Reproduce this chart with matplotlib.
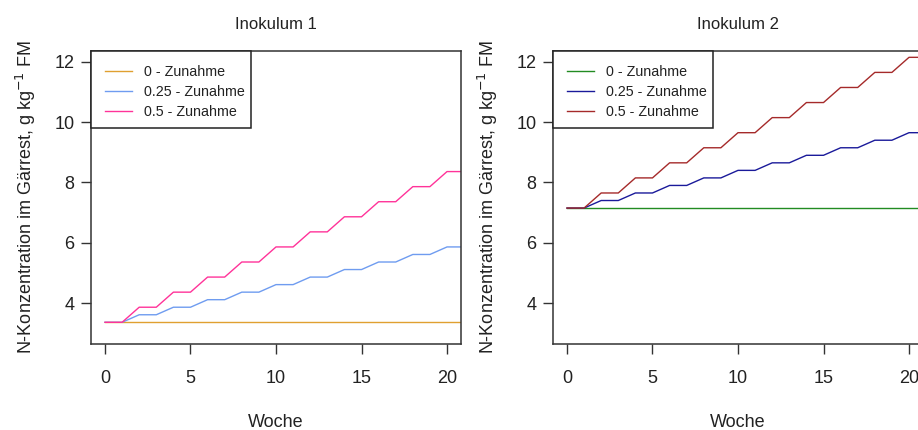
import matplotlib
matplotlib.use("Agg")
import matplotlib.pyplot as plt
from matplotlib.patches import Rectangle

weeks = list(range(0, 22))

ino1_0 = [3.36] * 22
ino1_025 = [3.36, 3.36, 3.61, 3.61, 3.86, 3.86, 4.11, 4.11, 4.36, 4.36, 4.61,
            4.61, 4.86, 4.86, 5.11, 5.11, 5.36, 5.36, 5.61, 5.61, 5.86, 5.86]
ino1_05 = [3.36, 3.36, 3.86, 3.86, 4.36, 4.36, 4.86, 4.86, 5.36, 5.36, 5.86,
           5.86, 6.36, 6.36, 6.86, 6.86, 7.36, 7.36, 7.86, 7.86, 8.36, 8.36]

ino2_0 = [7.15] * 22
ino2_025 = [7.15, 7.15, 7.40, 7.40, 7.65, 7.65, 7.90, 7.90, 8.15, 8.15, 8.40,
            8.40, 8.65, 8.65, 8.90, 8.90, 9.15, 9.15, 9.40, 9.40, 9.65, 9.65]
ino2_05 = [7.15, 7.15, 7.65, 7.65, 8.15, 8.15, 8.65, 8.65, 9.15, 9.15, 9.65,
           9.65, 10.15, 10.15, 10.65, 10.65, 11.15, 11.15, 11.65, 11.65, 12.15, 12.15]

labels = ["0 - Zunahme", "0.25 - Zunahme", "0.5 - Zunahme"]
titles = ["Inokulum 1", "Inokulum 2"]
xticks = [0, 5, 10, 15, 20]
yticks = [4, 6, 8, 10, 12]

colors1 = ["#E0A030", "#6F9CF0", "#FF3399"]
colors2 = ["#228B22", "#1A1A9A", "#A52A2A"]

plt.rcParams['font.family'] = ['Liberation Sans', 'DejaVu Sans']

W, H = 918, 430
fig = plt.figure(figsize=(W / 100, H / 100), dpi=100)

AX_L, AX_R, AX_T, AX_B = 91.3, 460.7, 51, 344

def px_axes(left, right, top, bottom):
    return fig.add_axes([left / W, (H - bottom) / H, (right - left) / W, (bottom - top) / H])

ax1 = px_axes(AX_L, AX_R, AX_T, AX_B)
ax2 = px_axes(AX_L + 462, AX_R + 462, AX_T, AX_B)

panels = [(ax1, [ino1_0, ino1_025, ino1_05], colors1, titles[0]),
          (ax2, [ino2_0, ino2_025, ino2_05], colors2, titles[1])]

aw, ah = AX_R - AX_L, AX_B - AX_T

for ax, series, cols, title in panels:
    for s, c, lab in zip(series, cols, labels):
        ax.plot(weeks, s, color=c, lw=1.0, label=lab)
    ax.set_xlim(-0.8, 20.8)
    ax.set_ylim(2.64, 12.36)
    ax.set_xticks(xticks)
    ax.set_yticks(yticks)
    ax.tick_params(direction='out', length=7, width=1.0, color='#333333',
                   labelsize=13, labelcolor='#222222')
    ax.tick_params(axis='x', pad=12)
    ax.tick_params(axis='y', pad=5)
    for sp in ax.spines.values():
        sp.set_color('#333333')
        sp.set_linewidth(1.1)
    ax.set_title(title, fontsize=12, pad=16, color='#222222')
    ax.set_xlabel("Woche", fontsize=13, labelpad=19, color='#222222')
    ax.set_ylabel("N-Konzentration im Gärrest, g kg$^{-1}$ FM", fontsize=13,
                  labelpad=12, color='#222222')
    # legend box (R style: flush with top-left corner)
    box_w = (251 - AX_L) / aw
    box_h = (128 - AX_T) / ah
    ax.add_patch(Rectangle((0, 1 - box_h), box_w, box_h, transform=ax.transAxes,
                           facecolor='white', edgecolor='#222222', lw=1.1,
                           zorder=4, clip_on=False))
    leg = ax.legend(loc='upper left',
                    bbox_to_anchor=((105 - AX_L) / aw, 1 - (65 - AX_T) / ah),
                    borderaxespad=0, borderpad=0, frameon=False, fontsize=10.3,
                    handlelength=1.9, handletextpad=0.8, labelspacing=0.42)
    leg.set_zorder(5)
    for t in leg.get_texts():
        t.set_color('#222222')

fig.savefig("out.png", dpi=100)
